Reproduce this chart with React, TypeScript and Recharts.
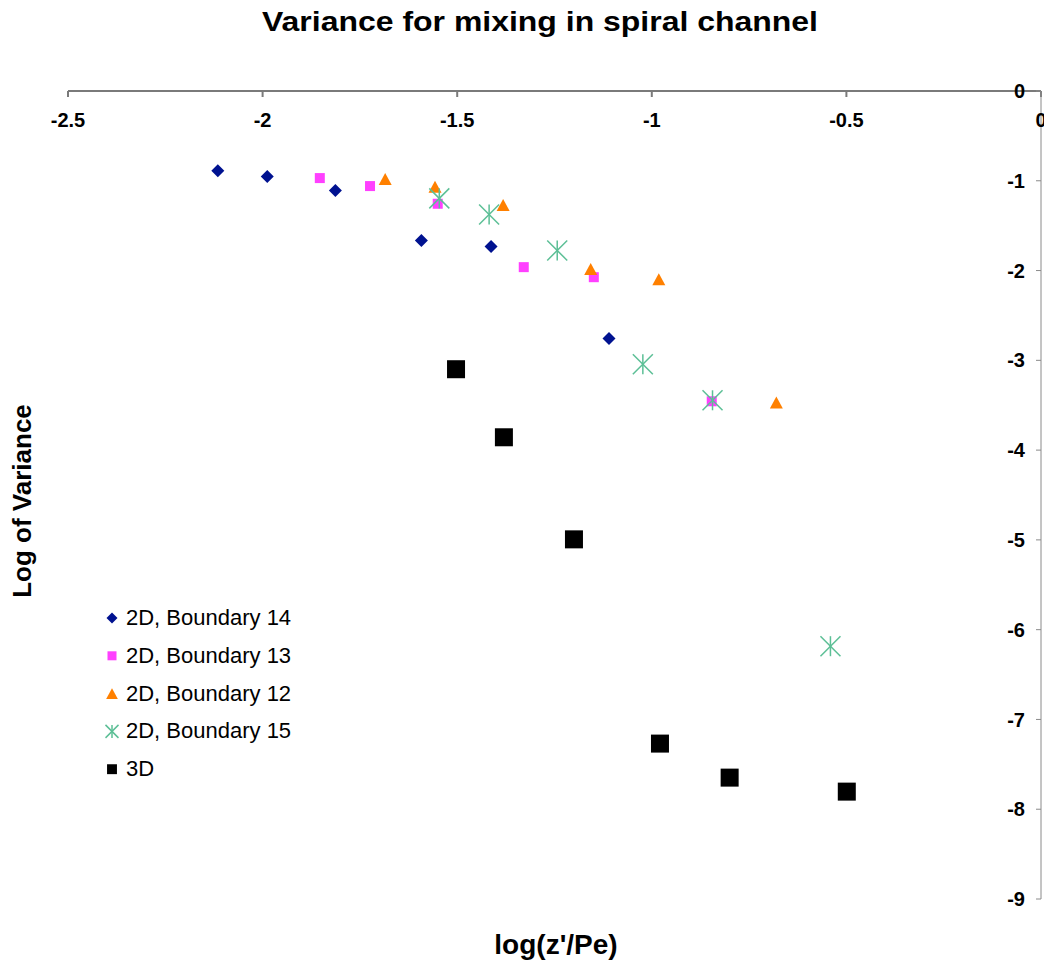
import React from 'react';
import { ScatterChart, Scatter, XAxis, YAxis, Legend } from 'recharts';

// axis ticks
const xTicks = [-2.5, -2, -1.5, -1, -0.5, 0];
const yTicks = [0, -1, -2, -3, -4, -5, -6, -7, -8, -9];

// values: log(z'/Pe) vs log of variance
const b14X = [-2.115, -1.988, -1.813, -1.592, -1.413, -1.11];
const b14Y = [-0.889, -0.951, -1.107, -1.664, -1.731, -2.757];
const b13X = [-1.853, -1.724, -1.55, -1.329, -1.149, -0.846];
const b13Y = [-0.97, -1.059, -1.256, -1.962, -2.074, -3.456];
const b12X = [-1.685, -1.557, -1.382, -1.157, -0.982, -0.68];
const b12Y = [-0.981, -1.067, -1.271, -1.984, -2.096, -3.471];
const b15X = [-1.546, -1.418, -1.243, -1.023, -0.844, -0.541];
const b15Y = [-1.196, -1.375, -1.776, -3.043, -3.445, -6.184];
const d3X = [-1.503, -1.38, -1.2, -0.979, -0.8, -0.499];
const d3Y = [-3.099, -3.857, -4.994, -7.269, -7.648, -7.804];

const FONT = '"Liberation Sans", Arial, sans-serif';

type Kind = 'diamond' | 'square' | 'triangle' | 'star' | 'bigsquare';

const series: { name: string; xs: number[]; ys: number[]; kind: Kind; color: string }[] = [
  { name: '2D, Boundary 14', xs: b14X, ys: b14Y, kind: 'diamond', color: '#001290' },
  { name: '2D, Boundary 13', xs: b13X, ys: b13Y, kind: 'square', color: '#ff40ff' },
  { name: '2D, Boundary 12', xs: b12X, ys: b12Y, kind: 'triangle', color: '#ff8000' },
  { name: '2D, Boundary 15', xs: b15X, ys: b15Y, kind: 'star', color: '#5cbf96' },
  { name: '3D', xs: d3X, ys: d3Y, kind: 'bigsquare', color: '#000000' },
];

// draws one marker centred on cx, cy; s scales it down for the legend
function marker(kind: Kind, color: string, cx: number, cy: number, s = 1) {
  if (kind === 'diamond') {
    const r = 6.5 * s;
    return <polygon points={`${cx},${cy - r} ${cx + r},${cy} ${cx},${cy + r} ${cx - r},${cy}`} fill={color} />;
  }
  if (kind === 'square') {
    const h = 5 * s;
    return <rect x={cx - h} y={cy - h} width={h * 2} height={h * 2} fill={color} />;
  }
  if (kind === 'triangle') {
    const w = 6.5 * s;
    const h = 6 * s;
    return <polygon points={`${cx},${cy - h} ${cx + w},${cy + h} ${cx - w},${cy + h}`} fill={color} />;
  }
  if (kind === 'star') {
    const r = 10 * s;
    return (
      <g stroke={color} strokeWidth={1.5}>
        <line x1={cx - r} y1={cy - r} x2={cx + r} y2={cy + r} />
        <line x1={cx - r} y1={cy + r} x2={cx + r} y2={cy - r} />
        <line x1={cx} y1={cy - r} x2={cx} y2={cy + r} />
      </g>
    );
  }
  const h = 9 * s;
  return <rect x={cx - h} y={cy - h} width={h * 2} height={h * 2} fill={color} />;
}

const legendScale: Record<Kind, number> = { diamond: 0.85, square: 0.9, triangle: 0.9, star: 0.65, bigsquare: 0.55 };

const renderLegend = () => (
  <svg width={240} height={200}>
    {series.map((s, i) => {
      const base = 25 + i * 37.8;
      return (
        <g key={s.name}>
          {marker(s.kind, s.color, 12, base - 7, legendScale[s.kind])}
          <text x={26} y={base} fontSize={22} fontFamily={FONT} fill="#000">
            {s.name}
          </text>
        </g>
      );
    })}
  </svg>
);

const tickStyle = { fontSize: 20, fontWeight: 'bold' as const, fill: '#000', fontFamily: FONT };

export default function App() {
  return (
    <div style={{ position: 'absolute', left: 0, top: 0, width: 1044, height: 961, background: '#fff', overflow: 'hidden' }}>
      <ScatterChart width={1044} height={961} margin={{ top: 91, right: 3, bottom: 62, left: 68 }}>
        <XAxis
          type="number"
          dataKey="x"
          orientation="top"
          mirror
          height={1}
          domain={[-2.5, 0]}
          ticks={xTicks}
          tickSize={6}
          tickMargin={16}
          interval={0}
          stroke="#7a7a7a"
          strokeWidth={2}
          tick={tickStyle}
        />
        <YAxis
          type="number"
          dataKey="y"
          orientation="right"
          mirror
          width={1}
          domain={[-9, 0]}
          ticks={yTicks}
          tickSize={5}
          tickMargin={11}
          interval={0}
          stroke="#8a8a8a"
          tick={tickStyle}
        />
        <Legend
          layout="vertical"
          align="center"
          verticalAlign="middle"
          content={renderLegend}
          wrapperStyle={{ left: 100, top: 600, width: 240, height: 200 }}
        />
        {series.map((s) => (
          <Scatter
            key={s.name}
            name={s.name}
            data={s.xs.map((x, i) => ({ x, y: s.ys[i] }))}
            fill={s.color}
            isAnimationActive={false}
            shape={(p: any) => marker(s.kind, s.color, p.cx, p.cy)}
          />
        ))}
      </ScatterChart>
      <svg width={1044} height={961} style={{ position: 'absolute', left: 0, top: 0, pointerEvents: 'none' }}>
        <text
          x={540}
          y={31}
          textAnchor="middle"
          fontSize={27}
          fontWeight="bold"
          fontFamily={FONT}
          textLength={556}
          lengthAdjust="spacingAndGlyphs"
        >
          Variance for mixing in spiral channel
        </text>
        <text x={556} y={954} textAnchor="middle" fontSize={28} fontWeight="bold" fontFamily={FONT}>
          log(z'/Pe)
        </text>
        <text
          x={31}
          y={501}
          textAnchor="middle"
          fontSize={26}
          fontWeight="bold"
          fontFamily={FONT}
          transform="rotate(-90 31 501)"
        >
          Log of Variance
        </text>
      </svg>
    </div>
  );
}
